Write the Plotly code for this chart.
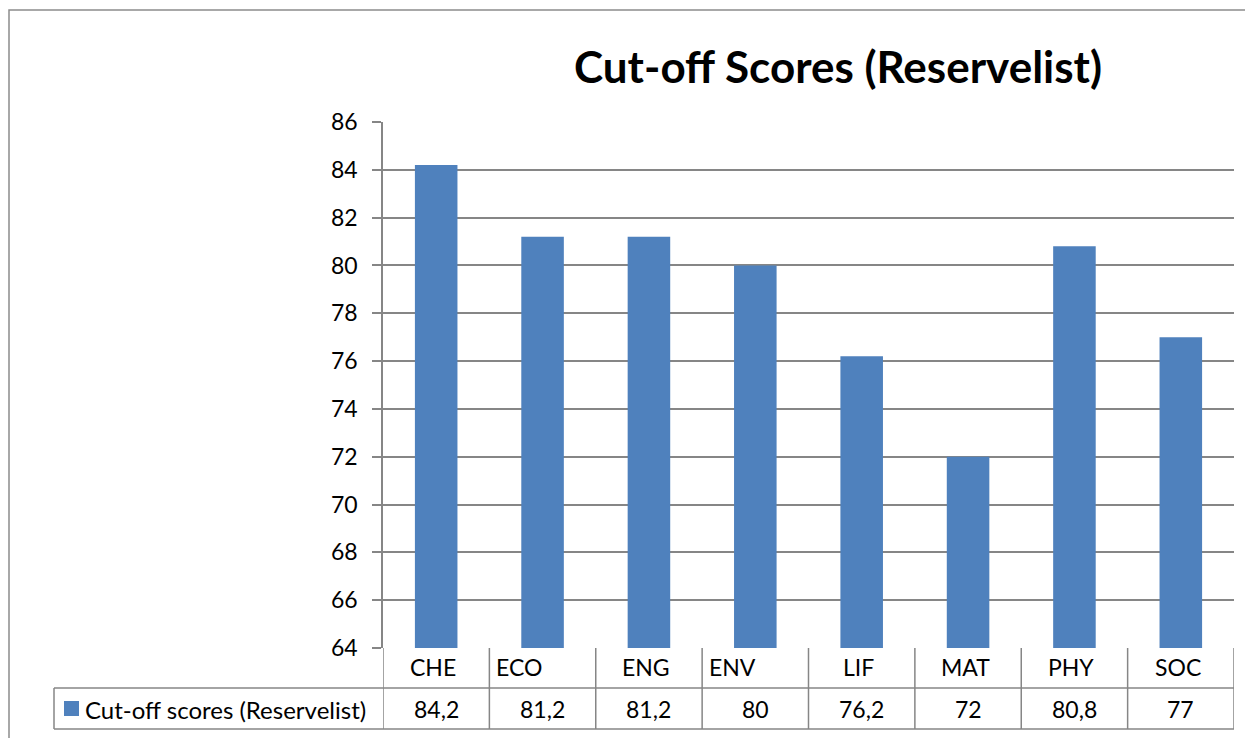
import plotly.graph_objects as go

categories = ["CHE", "ECO", "ENG", "ENV", "LIF", "MAT", "PHY", "SOC"]
values = [84.2, 81.2, 81.2, 80, 76.2, 72, 80.8, 77]
series_name = "Cut-off scores (Reservelist)"
title_text = "Cut-off Scores (Reservelist)"
y_ticks = [64, 66, 68, 70, 72, 74, 76, 78, 80, 82, 84, 86]

# page geometry (the page body has an 8px margin)
W, H = 1253, 738
OFF = 8
L, R, T, B = 383, 19, 122, 90
plot_w = W - L - R
plot_h = H - T - B

BAR = "#4F81BD"
GRID = "#868686"
FONT = "Lato"


def py(pix):
    return (H - B - pix) / plot_h


def px(pix):
    return (pix - L) / plot_w


fig = go.Figure()
fig.add_trace(go.Bar(x=categories, y=values, marker=dict(color=BAR, line=dict(width=0)),
                     name=series_name, showlegend=False))

shapes = []
# outer chart border (extends past the window on the right and bottom)
shapes.append(dict(type="rect", xref="paper", yref="paper", x0=px(9), x1=px(1300), y0=py(10), y1=py(800),
                   line=dict(color="#8c8c8c", width=1.5), fillcolor="rgba(0,0,0,0)", layer="below"))
# data table
row1 = 688
row2 = 729
for yy in (row1, row2):
    shapes.append(dict(type="line", xref="paper", yref="paper", x0=px(54), x1=1, y0=py(yy), y1=py(yy),
                       line=dict(color=GRID, width=1.5)))
shapes.append(dict(type="line", xref="paper", yref="paper", x0=px(54), x1=px(54), y0=py(row1), y1=py(row2),
                   line=dict(color=GRID, width=1.5)))
for i in range(len(categories) + 1):
    shapes.append(dict(type="line", xref="x", yref="paper", x0=i - 0.5, x1=i - 0.5, y0=0, y1=py(row2),
                       line=dict(color=GRID, width=1.5)))
# legend key
shapes.append(dict(type="rect", xref="paper", yref="paper", x0=px(64), x1=px(79), y0=py(716), y1=py(701),
                   fillcolor=BAR, line=dict(width=0)))

annotations = []
left_aligned = {"ECO", "ENV"}
for i, c in enumerate(categories):
    if c in left_aligned:
        annotations.append(dict(x=i - 0.5, xref="x", y=py(667), yref="paper", text=c, showarrow=False,
                                xanchor="left", yanchor="middle", xshift=5,
                                font=dict(family=FONT, size=23, color="black")))
    else:
        annotations.append(dict(x=i, xref="x", y=py(667), yref="paper", text=c, showarrow=False,
                                xanchor="center", yanchor="middle", xshift=-3,
                                font=dict(family=FONT, size=23, color="black")))
    label = ("%g" % values[i]).replace(".", ",")
    annotations.append(dict(x=i, xref="x", y=py(709), yref="paper", text=label, showarrow=False,
                            xanchor="center", yanchor="middle",
                            font=dict(family=FONT, size=23, color="black")))
annotations.append(dict(x=px(83), xref="paper", y=py(709), yref="paper", text=series_name, showarrow=False,
                        xanchor="left", yanchor="middle", font=dict(family=FONT, size=24, color="black")))
annotations.append(dict(x=px(838), xref="paper", y=py(66), yref="paper", text="<b>" + title_text + "</b>",
                        showarrow=False, xanchor="center", yanchor="middle",
                        font=dict(family=FONT, size=44, color="black")))

fig.update_layout(
    width=W - OFF, height=H - OFF,
    margin=dict(l=L - OFF, r=R, t=T - OFF, b=B, pad=0),
    paper_bgcolor="white", plot_bgcolor="white",
    bargap=0.6,
    showlegend=False,
    shapes=shapes,
    annotations=annotations,
    xaxis=dict(type="category", showticklabels=False, showgrid=False, zeroline=False,
               showline=False, ticks="", range=[-0.5, len(categories) - 0.5]),
    yaxis=dict(range=[64, 86], tickvals=y_ticks, showgrid=True, gridcolor=GRID, gridwidth=1.5,
               zeroline=False, showline=True, linecolor=GRID, linewidth=1.5,
               ticks="outside", ticklen=9, tickcolor=GRID, tickwidth=1.5, ticklabelstandoff=10,
               tickfont=dict(family=FONT, size=23, color="black")),
)

fig.write_html("out.html")
